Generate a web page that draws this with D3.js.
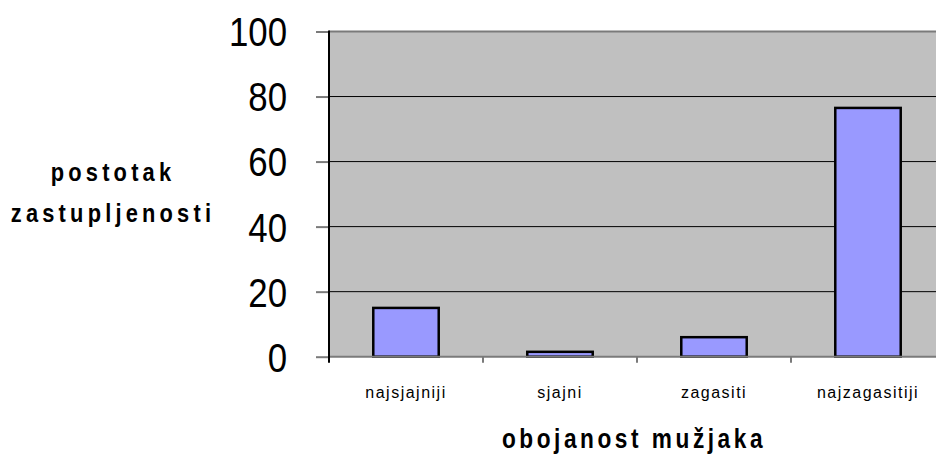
<!DOCTYPE html>
<html>
<head>
<meta charset="utf-8">
<script src="https://cdn.jsdelivr.net/npm/d3@7"></script>
<style>
  html, body { margin: 0; padding: 0; background: #fff; overflow: hidden; }
  svg { display: block; font-family: "Liberation Sans", Arial, sans-serif; }
</style>
</head>
<body>
<svg id="chart" width="936" height="459"></svg>
<script>
// Share of males by colouration class (percent)
const categories = ["najsjajniji", "sjajni", "zagasiti", "najzagasitiji"];
const values = [15, 1.5, 6, 76.5];
const yTicks = [0, 20, 40, 60, 80, 100];
const yTitle = ["postotak", "zastupljenosti"];
const xTitle = "obojanost mužjaka";

const svg = d3.select("#chart");
const plot = { left: 329, right: 945, top: 31.5, bottom: 356.7 };

const x = d3.scaleBand()
  .domain(categories)
  .range([plot.left, plot.right])
  .paddingInner(0.575)
  .paddingOuter(0.2875);

const y = d3.scaleLinear()
  .domain([0, 100])
  .range([plot.bottom, plot.top]);

// plot background
svg.append("rect")
  .attr("x", plot.left)
  .attr("y", plot.top)
  .attr("width", plot.right - plot.left)
  .attr("height", plot.bottom - plot.top)
  .attr("fill", "#c0c0c0");

// horizontal gridlines
svg.append("g")
  .selectAll("line")
  .data(yTicks.filter(d => d > 0 && d < 100))
  .join("line")
  .attr("x1", plot.left).attr("x2", plot.right)
  .attr("y1", d => y(d)).attr("y2", d => y(d))
  .attr("stroke", "#000").attr("stroke-width", 1);

// top border of the plot area
svg.append("line")
  .attr("x1", plot.left).attr("x2", plot.right)
  .attr("y1", y(100)).attr("y2", y(100))
  .attr("stroke", "#7a7a7a").attr("stroke-width", 2);

// bars
svg.append("g")
  .selectAll("rect")
  .data(categories.map((c, i) => ({ c, v: values[i] })))
  .join("rect")
  .attr("x", d => x(d.c))
  .attr("width", x.bandwidth())
  .attr("y", d => y(d.v))
  .attr("height", d => y(0) - y(d.v))
  .attr("fill", "#9999ff")
  .attr("stroke", "#000")
  .attr("stroke-width", 2.5);

// y axis: ticks and labels (labels drawn slightly condensed)
const labelScale = 0.87;
const labelOffset = 42;
const yAxis = d3.axisLeft(y)
  .tickValues(yTicks)
  .tickSize(13)
  .tickFormat(d3.format("d"));
const gy = svg.append("g")
  .attr("transform", `translate(${plot.left},0)`)
  .call(yAxis);
gy.select(".domain").remove();
gy.selectAll(".tick line").attr("stroke", "#7a7a7a").attr("stroke-width", 2);
gy.selectAll(".tick text")
  .attr("font-family", "Liberation Sans, Arial, sans-serif")
  .attr("font-size", 40)
  .attr("fill", "#000")
  .attr("x", -labelOffset / labelScale)
  .attr("dy", "0.36em")
  .attr("transform", `scale(${labelScale},1)`);

// baseline and category boundary ticks
const bounds = d3.range(1, categories.length).map(i => x(categories[i]) - x.step() * x.paddingInner() / 2);
svg.append("line")
  .attr("x1", plot.left).attr("x2", plot.right)
  .attr("y1", y(0)).attr("y2", y(0))
  .attr("stroke", "#7a7a7a").attr("stroke-width", 2);
svg.append("g")
  .selectAll("line")
  .data(bounds)
  .join("line")
  .attr("x1", d => d).attr("x2", d => d)
  .attr("y1", y(0)).attr("y2", y(0) + 6)
  .attr("stroke", "#7a7a7a").attr("stroke-width", 2);

// left axis line
svg.append("line")
  .attr("x1", plot.left).attr("x2", plot.left)
  .attr("y1", y(100) - 1).attr("y2", y(0) + 6)
  .attr("stroke", "#000").attr("stroke-width", 2);

// category labels
svg.append("g")
  .selectAll("text")
  .data(categories)
  .join("text")
  .attr("x", d => x(d) + x.bandwidth() / 2)
  .attr("y", 398)
  .attr("text-anchor", "middle")
  .attr("font-size", 16)
  .attr("letter-spacing", "1.5px")
  .attr("fill", "#000")
  .text(d => d);

// axis titles: bold, condensed, widely tracked
const titleScale = 0.84;
svg.append("text")
  .attr("transform", `translate(634,448) scale(${titleScale},1)`)
  .attr("text-anchor", "middle")
  .attr("font-size", 27)
  .attr("font-weight", "bold")
  .attr("letter-spacing", "4.2px")
  .attr("fill", "#000")
  .text(xTitle);

svg.append("g")
  .selectAll("text")
  .data(yTitle)
  .join("text")
  .attr("transform", (d, i) => `translate(113,${181 + i * 41}) scale(${titleScale},1)`)
  .attr("text-anchor", "middle")
  .attr("font-size", 26)
  .attr("font-weight", "bold")
  .attr("letter-spacing", "5px")
  .attr("fill", "#000")
  .text(d => d);
</script>
</body>
</html>
